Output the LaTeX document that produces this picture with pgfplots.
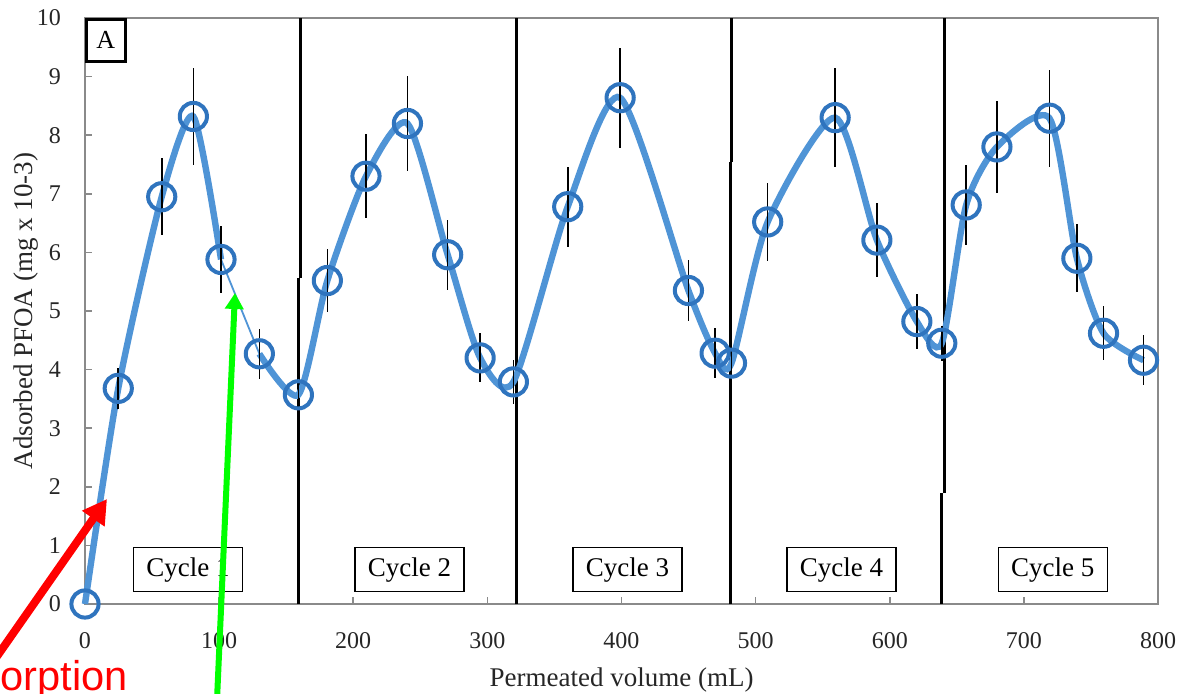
\documentclass[border=0pt]{standalone}
\usepackage{pgfplots}
\pgfplotsset{compat=1.18}
\usepackage{pgfplotstable}
\usepackage{fontspec}
\setmainfont{Liberation Serif}
\newfontfamily\arialfont{Liberation Sans}
\usetikzlibrary{arrows.meta}
\definecolor{lineblue}{HTML}{4F94D6}
\definecolor{markblue}{HTML}{2F74BE}
\definecolor{framegray}{HTML}{8A8A8A}
\definecolor{brightgreen}{HTML}{00FF00}

\pgfplotstableread{
x y e
0 0 0
24.8 3.68 0.35
57.2 6.95 0.66
80.8 8.32 0.83
101.4 5.88 0.57
130 4.27 0.43
159.1 3.57 0.3
180.7 5.52 0.53
209.5 7.30 0.72
240.4 8.20 0.81
270.4 5.96 0.60
294.6 4.20 0.42
319.4 3.79 0.37
359.9 6.78 0.68
399 8.64 0.85
449.9 5.35 0.52
469.8 4.28 0.43
482 4.11 0.3
509 6.52 0.67
559.3 8.30 0.84
590.4 6.21 0.63
620.2 4.82 0.47
638.8 4.45 0.3
657 6.81 0.68
679.9 7.80 0.79
719.1 8.29 0.83
739.5 5.90 0.58
759.4 4.62 0.46
789.2 4.16 0.43
}\dataall

\pgfplotstableread{
x y
0 0
24.8 3.68
57.2 6.95
80.8 8.32
101.4 5.88
}\dataA

\pgfplotstableread{
x y
101.4 5.88
130 4.27
}\dataB

\pgfplotstableread{
x y
130 4.27
159.1 3.57
180.7 5.52
209.5 7.30
240.4 8.20
270.4 5.96
294.6 4.20
319.4 3.79
359.9 6.78
399 8.64
449.9 5.35
469.8 4.28
482 4.11
509 6.52
559.3 8.30
590.4 6.21
620.2 4.82
638.8 4.45
657 6.81
679.9 7.80
719.1 8.29
739.5 5.90
759.4 4.62
789.2 4.16
}\dataC

\begin{document}
\begin{tikzpicture}
\begin{axis}[
  at={(0pt,0pt)}, anchor=south west,
  scale only axis, width=536.5pt, height=293pt,
  xmin=0, xmax=800, ymin=0, ymax=10,
  xtick={0,100,...,800}, ytick={0,1,...,10},
  xtick pos=left, ytick pos=left,
  tick align=inside, major tick length=3.5pt,
  axis line style={framegray, line width=1pt},
  tick style={framegray, line width=0.8pt},
  /pgf/number format/assume math mode=true,
  every tick label/.append style={font=\fontsize{12}{14}\selectfont, text=black!85},
  xticklabel style={yshift=-10.5pt},
  yticklabel style={xshift=-8.5pt},
  xlabel={Permeated volume (mL)},
  ylabel={Adsorbed PFOA (mg x 10-3)},
  label style={font=\fontsize{13.5}{16}\selectfont, text=black!85},
  xlabel style={at={(axis description cs:0.5,-0.1297)}, anchor=center},
  ylabel style={at={(axis description cs:-0.0550,0.5)}, anchor=center},
  clip=false,
]
% cycle separators
\addplot[black, line width=1.5pt] coordinates {(159.1,0) (159.1,5.56)};
\addplot[black, line width=1.5pt] coordinates {(160.3,5.56) (160.3,10)};
\addplot[black, line width=1.5pt] coordinates {(321.9,0) (321.9,10)};
\addplot[black, line width=1.5pt] coordinates {(480.9,0) (480.9,7.55)};
\addplot[black, line width=1.5pt] coordinates {(482.2,7.55) (482.2,10)};
\addplot[black, line width=1.5pt] coordinates {(638.9,0) (638.9,1.89)};
\addplot[black, line width=1.5pt] coordinates {(640.9,1.89) (640.9,10)};

% cycle boxes
\node[draw=black, line width=0.6pt, fill=white, minimum width=54.5pt, minimum height=22pt, inner sep=0pt, font=\fontsize{13.5}{16}\selectfont] at (axis cs:76.8,0.585) {Cycle 1};
\node[draw=black, line width=0.6pt, fill=white, minimum width=54.5pt, minimum height=22pt, inner sep=0pt, font=\fontsize{13.5}{16}\selectfont] at (axis cs:242,0.585) {Cycle 2};
\node[draw=black, line width=0.6pt, fill=white, minimum width=54.5pt, minimum height=22pt, inner sep=0pt, font=\fontsize{13.5}{16}\selectfont] at (axis cs:404.5,0.585) {Cycle 3};
\node[draw=black, line width=0.6pt, fill=white, minimum width=54.5pt, minimum height=22pt, inner sep=0pt, font=\fontsize{13.5}{16}\selectfont] at (axis cs:564,0.585) {Cycle 4};
\node[draw=black, line width=0.6pt, fill=white, minimum width=54.5pt, minimum height=22pt, inner sep=0pt, font=\fontsize{13.5}{16}\selectfont] at (axis cs:721.5,0.585) {Cycle 5};

% panel label
\node[draw=black, line width=1.3pt, fill=white, anchor=north west, minimum width=19.5pt, minimum height=21pt, inner sep=0pt, font=\fontsize{13}{15}\selectfont] at (rel axis cs:0,1) {A};

% smoothed line
\addplot[lineblue, line width=3.2pt, smooth, tension=0.42, mark=none] table[x=x,y=y] {\dataA};
\addplot[lineblue, line width=0.9pt, mark=none] table[x=x,y=y] {\dataB};
\addplot[lineblue, line width=3.2pt, smooth, tension=0.42, mark=none] table[x=x,y=y] {\dataC};

% markers
\addplot[only marks, mark=o, mark size=6.8pt, mark options={markblue, line width=2pt}] table[x=x,y=y] {\dataall};

% error bars
\addplot[draw=none, mark=none, forget plot,
  error bars/.cd, y dir=both, y explicit, error mark=none,
  error bar style={draw=black, line width=0.8pt}]
  table[x=x, y=y, y error=e] {\dataall};
\end{axis}

% annotations
\draw[red, line width=4pt, -{Triangle[length=12pt,width=13pt]}] (-57.5pt,-45.5pt) -- (11pt,52.5pt);
\draw[brightgreen, line width=3pt, -{Triangle[length=8pt,width=9pt]}] (66pt,-48pt) -- (75pt,155.5pt);
\node[anchor=base west, text=red, inner sep=0pt, font=\arialfont\fontsize{20.8}{25}\selectfont] at (-78.25pt,-43pt) {Adsorption};

\pgfresetboundingbox
\useasboundingbox (-42.5pt,-44.5pt) rectangle (547.5pt,302pt);
\end{tikzpicture}
\end{document}
